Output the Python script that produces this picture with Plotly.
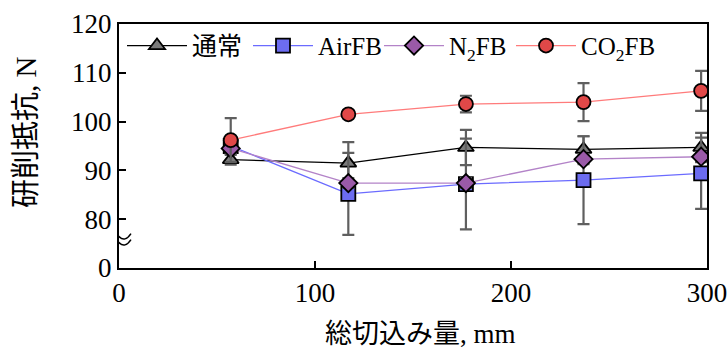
import plotly.graph_objects as go

x_mm = [57, 117, 177, 237, 297]
normal = [92.2, 91.5, 94.7, 94.3, 94.7]
normal_err = [1.0, 4.3, 3.6, 2.7, 3.0]
air = [95.0, 85.2, 87.2, 88.0, 89.4]
air_err = [1.5, 8.4, 9.3, 9.0, 7.3]
n2 = [94.5, 87.4, 87.4, 92.3, 92.8]
n2_err = [1.0, 1.0, 1.0, 1.0, 1.0]
co2 = [96.2, 101.5, 103.6, 104.0, 106.3]
co2_err = [4.5, 0.8, 1.7, 3.9, 4.1]

y_tickvals = [70, 80, 90, 100, 110, 120]
y_ticktext = ["0", "80", "90", "100", "110", "120"]
x_tickvals = [0, 100, 200, 300]

FONT = "Liberation Serif, Noto Sans CJK JP, serif"

series = [
    ("通常", normal, normal_err, "triangle-up", "#7a7a7a", "#000000"),
    ("AirFB", air, air_err, "square", "#6c6cf0", "#6b6bff"),
    ("N<sub>2</sub>FB", n2, n2_err, "diamond", "#9a5aa8", "#b383c8"),
    ("CO<sub>2</sub>FB", co2, co2_err, "circle", "#e04848", "#ff7b7b"),
]
legend_ids = ["legend", "legend2", "legend3", "legend4"]
legend_px = [122, 248, 379, 511]  # left edge of each legend entry, in pixels

fig = go.Figure()
for (name, ys, errs, sym, fill, line), lid in zip(series, legend_ids):
    fig.add_trace(go.Scatter(
        x=x_mm, y=ys, name=name, mode="lines+markers", legend=lid,
        line=dict(color=line, width=1.3),
        marker=dict(symbol=sym, size=14, color=fill, line=dict(color="#000000", width=1.8)),
        error_y=dict(type="data", array=errs, visible=True, color="#5f5f5f", thickness=2.2, width=6),
    ))

# axis break symbol
brk = dict(xref="x", yref="y", xanchor=0, yanchor=75.2, xsizemode="pixel", ysizemode="pixel", layer="above")
fig.add_shape(type="path", path="M -12 -3 Q -6 6 0 0 Q 6 -6 12 3 L 12 9 Q 6 0 0 6 Q -6 12 -12 3 Z",
              fillcolor="white", line=dict(width=0), **brk)
fig.add_shape(type="path", path="M -12 -3 Q -6 6 0 0 Q 6 -6 12 3",
              line=dict(color="black", width=1.5), **brk)
fig.add_shape(type="path", path="M -12 3 Q -6 12 0 6 Q 6 0 12 9",
              line=dict(color="black", width=1.5), **brk)

legend_layout = {}
for lid, px in zip(legend_ids, legend_px):
    legend_layout[lid] = dict(
        orientation="h", x=(px - 119) / 588, y=1.005, xanchor="left", yanchor="top",
        bgcolor="rgba(0,0,0,0)", font=dict(family=FONT, size=25), itemwidth=60)

fig.update_layout(
    width=728, height=350,
    margin=dict(l=119, r=21, t=24, b=82),
    paper_bgcolor="white", plot_bgcolor="white",
    font=dict(family=FONT, size=25, color="black"),
    showlegend=True,
    xaxis=dict(range=[0, 300], tickvals=x_tickvals, ticks="inside", ticklen=7,
               tickwidth=2, tickcolor="black", showline=True, linecolor="black",
               linewidth=2, mirror=True, showgrid=False, zeroline=False,
               automargin=False, tickfont=dict(size=27)),
    yaxis=dict(range=[70, 120], tickvals=y_tickvals, ticktext=y_ticktext,
               ticks="inside", ticklen=7, tickwidth=2, tickcolor="black",
               showline=True, linecolor="black", linewidth=2, mirror=True,
               showgrid=False, zeroline=False, automargin=False,
               tickfont=dict(size=27)),
    annotations=[
        dict(text="総切込み量, mm", xref="paper", yref="paper",
             x=(420 - 119) / 588, y=(268 - 334) / 244, xanchor="center", yanchor="middle",
             showarrow=False, font=dict(family=FONT, size=27)),
        dict(text="研削抵抗, N", xref="paper", yref="paper",
             x=(26 - 119) / 588, y=(268 - 132) / 244, xanchor="center", yanchor="middle",
             textangle=-90, showarrow=False, font=dict(family=FONT, size=29)),
    ],
    **legend_layout,
)

fig.write_html("out.html", config={"displayModeBar": False},
               post_script="document.body.style.margin='0';")
